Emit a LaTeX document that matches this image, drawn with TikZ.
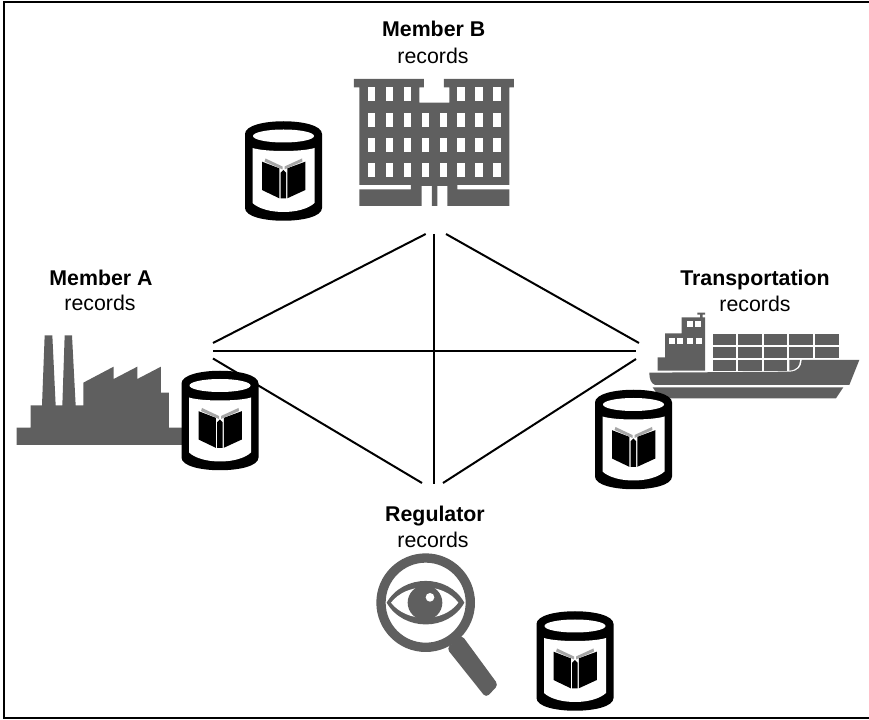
\documentclass[tikz,border=0pt]{standalone}
\usepackage{fontspec}
\setmainfont{Liberation Sans}
\usetikzlibrary{positioning}

\definecolor{icongray}{HTML}{5F5F5F}

\tikzset{
  recdb/.pic={
    % can
    \fill[black] (-38.5,-37) .. controls (-38.5,-54) and (38.5,-54) .. (38.5,-37)
      -- (38.5,37) .. controls (38.5,54) and (-38.5,54) .. (-38.5,37) -- cycle;
    \fill[white] (0,-35) ellipse[x radius=30.5,y radius=6.5];
    \fill[white] (-31,-23) .. controls (-18,-19) and (18,-19) .. (31,-23)
      -- (31,32) .. controls (18,44) and (-18,44) .. (-31,32) -- cycle;
    % book
    \fill[black] (-21.5,-9.3) -- (-4.2,-2.7) -- (-4.2,27.3) -- (-21.5,19) -- cycle;
    \fill[black] (-2.8,1.7) -- (0,-1) -- (2.5,1.7) -- (2.5,27.3) -- (-2.8,27.3) -- cycle;
    \fill[black] (3.8,-2.7) -- (21.8,-9.3) -- (21.8,19) -- (3.8,27.3) -- cycle;
    \fill[gray!70] (-18,-12.5) -- (-1,-4.5) -- (-1,-1.5) -- (-19,-9.5) -- cycle;
    \fill[gray!70] (18.5,-12.5) -- (1,-4.5) -- (1,-1.5) -- (19,-9.5) -- cycle;
  }
}

\begin{document}
\begin{tikzpicture}[x=0.75pt,y=-0.75pt]
    \tikzstyle{head}=[font=\fontsize{16}{19}\selectfont\bfseries,inner sep=0pt]
    \tikzstyle{sub}=[font=\fontsize{16}{19}\selectfont,inner sep=0pt]
    \tikzstyle{link}=[line width=1.5pt,black]
    \tikzstyle{frame}=[line width=1.8pt,black]

    \useasboundingbox (0,0) rectangle (869,720);
    \draw[frame] (869,2) -- (3.8,2) -- (3.8,718) -- (869,718);

    \node[head] (hB) at (433.7,29) {Member B};
    \node[sub]  (sB) at (433,55.5) {records};
    \node[head] (hA) at (101,277.5) {Member A};
    \node[sub]  (sA) at (100,302.5) {records};
    \node[head] (hT) at (755,280) {Transportation};
    \node[sub]  (sT) at (755,304) {records};
    \node[head] (hR) at (435,516.5) {Regulator};
    \node[sub]  (sR) at (433,540) {records};

    \coordinate (aup) at (213,343);
    \coordinate (amid) at (213,351);
    \coordinate (alow) at (213,358.5);
    \coordinate (tup) at (639,343);
    \coordinate (tmid) at (636,351);
    \coordinate (tlow) at (636,359);
    \coordinate (bleft) at (425.7,234);
    \coordinate (bmid) at (434,234);
    \coordinate (bright) at (446,234);
    \coordinate (rleft) at (422,483);
    \coordinate (rmid) at (434,484);
    \coordinate (rright) at (443,483);

    \draw[link] (aup) -- (bleft);
    \draw[link] (amid) -- (tmid);
    \draw[link] (alow) -- (rleft);
    \draw[link] (bmid) -- (rmid);
    \draw[link] (bright) -- (tup);
    \draw[link] (rright) -- (tlow);

    % building
    \begin{scope}[shift={(230,60)},scale=1/3]
        \fill[icongray] (372,57) -- (582,57) -- (582,82) -- (568,82) -- (568,128) -- (658,128) -- (658,82)
            -- (642,82) -- (642,57) -- (852,57) -- (852,82) -- (838,82) -- (838,375) -- (682,375)
            -- (682,388) -- (838,388) -- (838,438) -- (652,438) -- (652,378) -- (622,378) -- (622,438)
            -- (606,438) -- (606,378) -- (575,378) -- (575,438) -- (388,438) -- (388,388) -- (543,388)
            -- (543,375) -- (388,375) -- (388,82) -- (372,82) -- cycle;
        \foreach \x in {413,467,521,682,736,790}
            \fill[white] (\x,82) rectangle +(22,42);
        \foreach \y in {160,235,310}
            \foreach \x in {413,467,521,575,629,682,736,790}
                \fill[white] (\x,\y) rectangle +(22,41);
    \end{scope}

    % factory
    \begin{scope}[shift={(0,320)},scale=1/3]
        \fill[icongray] (50,375) -- (50,323) -- (92,323) -- (92,256) -- (126,256) -- (134,46) -- (157,46)
            -- (167,256) -- (187,256) -- (194,46) -- (216,46) -- (227,256) -- (250,256) -- (250,188)
            -- (341,140) -- (341,177) -- (412,140) -- (412,177) -- (483,140) -- (483,218) -- (507,218)
            -- (507,323) -- (560,323) -- (560,375) -- cycle;
    \end{scope}

    % ship
    \begin{scope}[shift={(580,300)},scale=1/3]
        \fill[icongray] (208,218) -- (630,215) .. controls (655,213) and (665,200) .. (665,180)
            -- (838,180) -- (808,255) -- (225,255) .. controls (212,250) and (208,235) .. (208,218) -- cycle;
        \fill[icongray] (218,262) -- (790,262) -- (768,295) -- (240,295) -- cycle;
        \fill[icongray] (233,212) -- (233,172) -- (255,172) -- (255,100) -- (305,100) -- (305,52)
            -- (360,52) -- (360,44) -- (352,44) -- (352,38) -- (375,38) -- (375,44) -- (368,44)
            -- (368,52) -- (375,52) -- (375,212) -- cycle;
        \foreach \x/\y in {320/63,345/63,267/113,292/113,320/113,347/113}
            \fill[white] (\x,\y) rectangle +(18,18);
        \foreach \y in {102,142}
            \foreach \x in {398,475,552,628,706}
                \fill[icongray] (\x,\y) rectangle +(70,32);
        \foreach \x in {398,475,552}
            \fill[icongray] (\x,180) rectangle +(70,32);
        \fill[icongray] (628,180) -- (660,180) .. controls (660,198) and (650,210) .. (628,212) -- cycle;
    \end{scope}

    % magnifier
    \begin{scope}[shift={(360,550)},scale=1/3]
        \fill[icongray,even odd rule] (197,158) circle (148) (197,158) circle (120);
        \fill[icongray,rounded corners=3pt] (305,255) -- (415,405) -- (378,443) -- (260,295) -- cycle;
        \fill[icongray] (80,158) .. controls (130,71) and (265,71) .. (313,158)
            .. controls (265,245) and (130,245) .. (80,158) -- cycle;
        \fill[white] (93,158) .. controls (140,97) and (250,97) .. (295,158)
            .. controls (250,219) and (140,219) .. (93,158) -- cycle;
        \fill[icongray] (195,158) circle (52);
        \fill[white] (210,142) circle (13);
    \end{scope}

    \pic at (283.5,171) {recdb};
    \pic at (220,420.5) {recdb};
    \pic at (633.5,439.5) {recdb};
    \pic at (575,661) {recdb};
\end{tikzpicture}
\end{document}
